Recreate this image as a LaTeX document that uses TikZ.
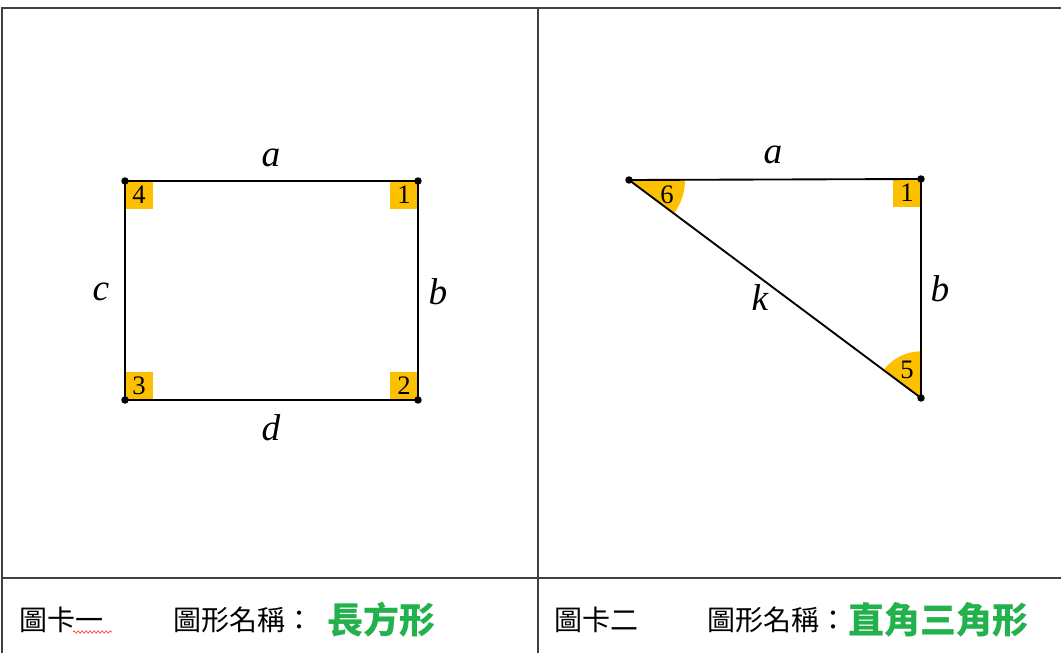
\documentclass[tikz,border=0pt]{standalone}
\usepackage{fontspec}
\setmainfont{Liberation Serif}
\newfontfamily\cjk{Noto Sans CJK TC}
\usetikzlibrary{decorations.pathmorphing}
\definecolor{angfill}{RGB}{252,192,0}
\definecolor{namegreen}{RGB}{34,177,76}
\definecolor{tablerule}{RGB}{64,64,64}

\begin{document}
\begin{tikzpicture}[x=0.75pt,y=0.75pt,
  edge/.style={line width=1.4pt},
  side/.style={font=\fontsize{28}{30}\selectfont\itshape},
  num/.style={font=\fontsize{20}{22}\selectfont},
  cardtext/.style={anchor=west,font=\cjk\fontsize{21}{24}\selectfont},
  figname/.style={anchor=west,font=\cjk\bfseries\fontsize{27}{30}\selectfont,text=namegreen}]
  \useasboundingbox (0,0) rectangle (1061,653);
  \draw[tablerule,line width=1pt] (2,0) -- (2,645) -- (1061,645);
  \draw[tablerule,line width=1pt] (538,0) -- (538,645);
  \draw[tablerule,line width=1pt] (2,75) -- (1061,75);
  % card 1
  \coordinate (r1) at (418,472); \coordinate (r2) at (418,253);
  \coordinate (r3) at (125,253); \coordinate (r4) at (125,472);
  \fill[angfill] (r1) rectangle ++(-28,-28); \path (r1) ++(-14,-14) node[num] (n1) {1};
  \fill[angfill] (r2) rectangle ++(-28,28);  \path (r2) ++(-14,14) node[num] (n2) {2};
  \fill[angfill] (r3) rectangle ++(28,28);   \path (r3) ++(14,14) node[num] (n3) {3};
  \fill[angfill] (r4) rectangle ++(28,-28);  \path (r4) ++(14,-14) node[num] (n4) {4};
  \draw[edge] (r4) -- (r1) -- (r2) -- (r3) -- cycle;
  \foreach \p in {r1,r2,r3,r4} \fill (\p) circle (2.8pt);
  \node[side] (ra) at (271,495) {a};
  \node[side] (rb) at (438,361) {b};
  \node[side] (rc) at (101,361) {c};
  \node[side] (rd) at (271,225) {d};
  % card 2
  \coordinate (t6) at (629,473); \coordinate (t1) at (921,474); \coordinate (t5) at (921,255);
  \fill[angfill] (t1) rectangle ++(-28,-28); \path (t1) ++(-14,-14) node[num] (m1) {1};
  \fill[angfill] (t6) -- ++(-36.7:42pt) arc[start angle=-36.7,end angle=0.2,radius=42pt] -- cycle;
  \fill[angfill] (t5) -- ++(90:35pt) arc[start angle=90,end angle=143.3,radius=35pt] -- cycle;
  \node[num] (m6) at (667,458) {6};
  \node[num] (m5) at (907,283) {5};
  \draw[edge] (t6) -- (t1) -- (t5) -- cycle;
  \foreach \p in {t1,t5,t6} \fill (\p) circle (2.8pt);
  \node[side] (ta) at (773,498) {a};
  \node[side] (tb) at (940,364) {b};
  \node[side] (tk) at (760,355) {k};
  % captions
  \node[cardtext] (c1) at (15,33) {圖卡一};
  \draw[red!80,line width=0.5pt,decorate,decoration={snake,amplitude=0.8pt,segment length=3pt}] (73,21) -- (112,21);
  \node[cardtext] (l1) at (169,33) {圖形名稱：};
  \node[figname] (f1) at (323,33) {長方形};
  \node[cardtext] (c2) at (550,33) {圖卡二};
  \node[cardtext] (l2) at (703,33) {圖形名稱：};
  \node[figname] (f2) at (844,33) {直角三角形};
\end{tikzpicture}
\end{document}
